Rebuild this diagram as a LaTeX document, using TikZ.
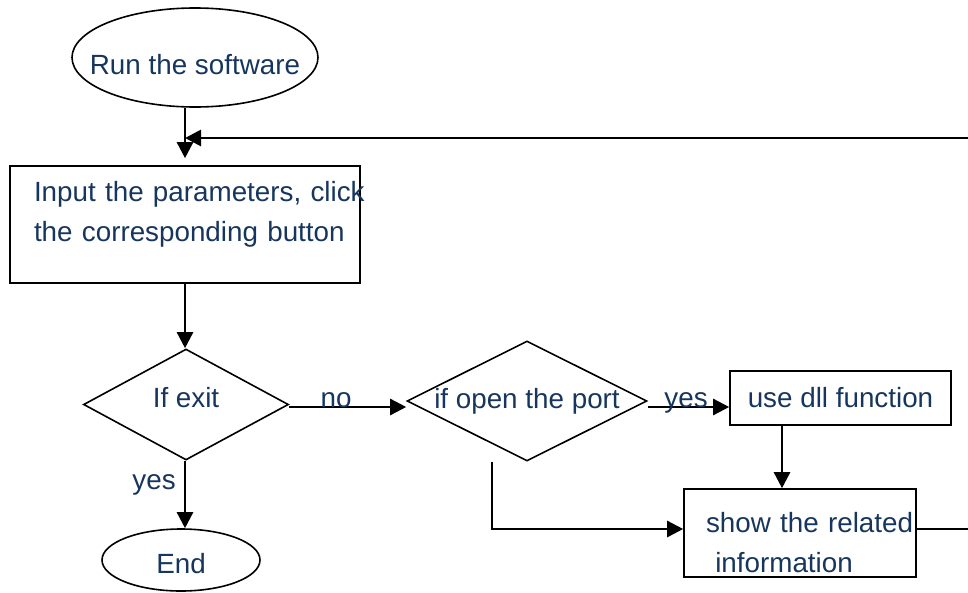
\documentclass[tikz,border=0pt]{standalone}
\usepackage{fontspec}
\setmainfont{Liberation Sans}
\usepackage{tikz}
\usetikzlibrary{arrows.meta, positioning, shapes.geometric}
\definecolor{textnavy}{RGB}{23, 54, 93}
\tikzset{
    terminal/.style={
        ellipse,
        draw=black,
        line width=1.6pt,
        inner sep=0pt,
        text=textnavy
    },
    process/.style={
        rectangle,
        draw=black,
        line width=1.6pt,
        text=textnavy
    },
    decision/.style={
        diamond,
        draw=black,
        line width=1.6pt,
        inner sep=0pt,
        text=textnavy
    },
    flow/.style={
        -{Triangle[length=16pt, width=16pt]},
        line width=2.5pt
    }
}

\begin{document}
\begin{tikzpicture}[
        x=1pt, y=-1pt,
        font=\fontsize{27.8}{40}\selectfont,
        lbl/.style={text=textnavy, inner sep=0pt}
    ]
        \useasboundingbox (0,0) rectangle (968,592);
        % main column on the left: start, input, exit test, end
        \node[terminal, minimum width=246pt, minimum height=99pt, text height=34pt] (run) at (195,57.5) {\makebox[0pt]{Run the software}};
        \node[process, minimum width=350pt, text width=302pt, inner xsep=24pt, inner ysep=0pt,
              text height=35pt, text depth=82pt, align=left] (input) at (185,224.5)
              {\mbox{Input the parameters, click}\\\mbox{the corresponding button}};
        \node[decision, minimum width=205pt, minimum height=111pt, text depth=14pt] (exit) at (186,404.5) {\makebox[0pt]{If exit}};
        \node[terminal, minimum width=158pt, minimum height=62pt, text height=28pt] (finish) at (181,560) {\makebox[0pt]{End}};
        % port branch on the right
        \node[decision, minimum width=240pt, minimum height=120pt] (port) at (527,401) {\makebox[0pt]{if open the port}};
        \node[process, minimum width=221pt, minimum height=54pt, inner sep=0pt] (dll) at (840.5,398) {use dll function};
        \node[process, text width=188pt, inner xsep=22pt, inner ysep=0pt,
              text height=43pt, text depth=45pt, align=left] (show) at (800,533)
              {\mbox{show the related}\\\mbox{ information}};

        \coordinate (dllout) at ([xshift=-58.5pt]dll.south);
        \coordinate (portout) at ([xshift=-35pt]port.south);
        \coordinate (back) at (972,138);

        \path[flow]
            (input.north |- run.south) edge[shorten >=7pt] (input.north)
            (input.south) edge (input.south |- exit.north)
            (input.south |- exit.south) edge
                node[lbl, anchor=base east, pos=0.43, xshift=-8pt] (yesend) {yes} (input.south |- finish.north)
            ([yshift=-2.5pt]exit.east) edge
                node[lbl, anchor=base, pos=0.4] (no) {no} ([yshift=-2.5pt]exit.east -| port.west)
            ([yshift=-6pt]port.east) edge
                node[lbl, anchor=base, pos=0.47] (yesdll) {yes} ([yshift=-6pt]port.east -| dll.west)
            (dllout) edge (dllout |- show.north);
        \draw[flow] (portout) |- ([yshift=4pt]show.west);
        % feedback loop runs off the right edge and back to the input box
        \draw[flow, line width=2.8pt] ([yshift=4pt]show.east) -| (back) -- (input.north |- back);
    \end{tikzpicture}
\end{document}
